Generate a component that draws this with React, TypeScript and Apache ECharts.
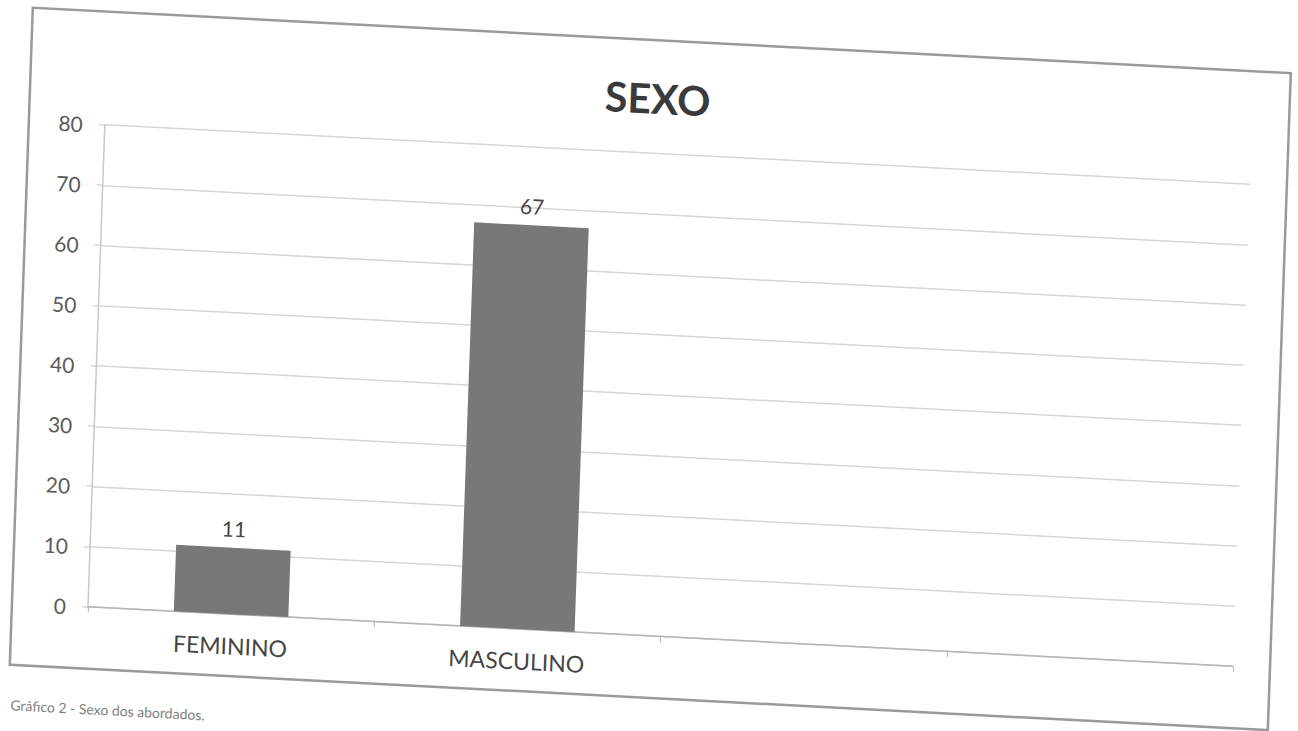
import React, { useEffect, useRef } from "react";
import * as echarts from "echarts";

const categories: string[] = ["FEMININO", "MASCULINO", "", ""];
const values: (number | null)[] = [11, 67, null, null];
const yTicks = { min: 0, max: 80, interval: 10 };
const chartTitle = "SEXO";
const caption = "Gráfico 2 - Sexo dos abordados.";

const FONT = "Lato, 'Open Sans', sans-serif";

export default function App() {
  const ref = useRef<HTMLDivElement | null>(null);

  useEffect(() => {
    if (!ref.current) return;
    const chart = echarts.init(ref.current, undefined, { renderer: "svg" });
    chart.setOption({
      animation: false,
      backgroundColor: "#ffffff",
      title: {
        text: chartTitle,
        left: "center",
        top: 38,
        textStyle: { fontFamily: FONT, fontSize: 41, fontWeight: "bold", color: "#3a3a3a" },
      },
      grid: { left: 109, top: 119, right: 66, bottom: 159, containLabel: false },
      xAxis: {
        type: "category",
        data: categories,
        axisLine: { show: true, lineStyle: { color: "#b5b5b5", width: 1.5 } },
        axisTick: { show: true, length: 6, alignWithLabel: false, lineStyle: { color: "#b5b5b5" } },
        axisLabel: { fontFamily: FONT, fontSize: 23, color: "#454545", margin: 20 },
        splitLine: { show: false },
      },
      yAxis: {
        type: "value",
        min: yTicks.min,
        max: yTicks.max,
        interval: yTicks.interval,
        axisLine: { show: true, lineStyle: { color: "#c8c8c8", width: 1.5 } },
        axisTick: { show: true, length: 6, lineStyle: { color: "#c8c8c8" } },
        axisLabel: { fontFamily: FONT, fontSize: 21, color: "#5a5a5a", margin: 22 },
        splitLine: { show: true, lineStyle: { color: "#d6d6d6", width: 1.5 } },
      },
      series: [
        {
          type: "bar",
          data: values.map((v) => (v === null ? "-" : v)),
          barWidth: "40%",
          itemStyle: { color: "#787878" },
          label: {
            show: true,
            position: "top",
            distance: 9,
            fontFamily: FONT,
            fontSize: 21,
            color: "#454545",
          },
        },
      ],
      graphic: [
        {
          type: "rect",
          shape: { x: 33, y: 6, width: 1258, height: 657 },
          style: { fill: "none", stroke: "#9a9a9a", lineWidth: 2.5 },
          silent: true,
          z: -1,
        },
        {
          type: "text",
          x: 35,
          y: 703,
          style: {
            text: caption,
            fontFamily: FONT,
            fontSize: 14,
            fill: "#808080",
            verticalAlign: "middle",
            align: "left",
          },
        },
      ],
    });
    return () => chart.dispose();
  }, []);

  return (
    <div
      style={{
        position: "fixed",
        left: 0,
        top: 0,
        width: 1298,
        height: 731,
        overflow: "hidden",
        background: "#ffffff",
      }}
    >
      <div
        ref={ref}
        style={{
          position: "absolute",
          left: 0,
          top: 0,
          width: 1320,
          height: 760,
          transformOrigin: "0 0",
          transform: "matrix(1, 0.052, -0.035, 1, 0, 0)",
        }}
      />
    </div>
  );
}
